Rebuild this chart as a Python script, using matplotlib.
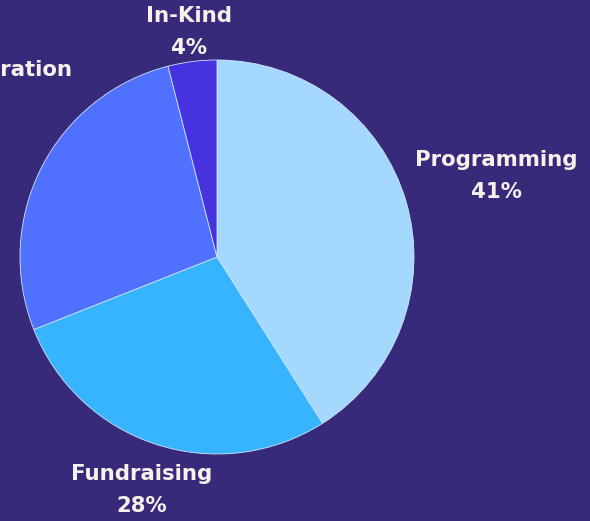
import numpy as np
import matplotlib.pyplot as plt

# ====== data ======
labels = ["Programming", "Fundraising", "Administration", "In-Kind"]
shares = [41, 28, 27, 4]
colors = ["#a5d8fd", "#36b4fd", "#5071fe", "#4732e0"]
show_pct = [True, True, False, True]

# ====== style ======
bg = "#372a7b"
txt = "#f9f0ec"
cx, cy, r = 217, 521 - 257, 197
label_dist = [1.475, 1.245, 1.0, 1.15]

fig = plt.figure(figsize=(5.9, 5.21), dpi=100, facecolor=bg)
ax = fig.add_axes([0, 0, 1, 1])
ax.set_facecolor(bg)

wedges, _ = ax.pie(shares, colors=colors, startangle=90, counterclock=False,
                   center=(cx, cy), radius=r, frame=True,
                   wedgeprops=dict(linewidth=0.6, edgecolor="#cfe6ff"))
ax.set_xlim(0, 590)
ax.set_ylim(0, 521)
ax.set_aspect("equal")
ax.axis("off")

total = sum(shares)
for w, lab, val, d, pct in zip(wedges, labels, shares, label_dist, show_pct):
    ang = np.deg2rad((w.theta1 + w.theta2) / 2)
    if pct:
        x = cx + d * r * np.cos(ang)
        y = cy + d * r * np.sin(ang)
        ax.text(x, y, f"{lab}\n{round(100 * val / total)}%", ha="center", va="center",
                color=txt, fontsize=15.3, fontweight="bold", linespacing=1.75)
    else:
        # in the source this label runs off the left edge of the canvas
        ax.text(73, 521 - 70, lab, ha="right", va="center",
                color=txt, fontsize=15.3, fontweight="bold")

fig.savefig("out.png", dpi=100, facecolor=bg)
